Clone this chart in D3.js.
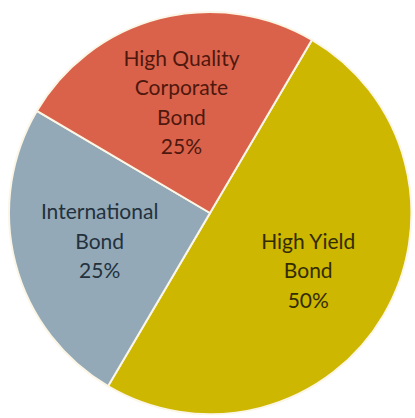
<html>
    <head>
        <script src='https://d3js.org/d3.v7.min.js'></script>
        <style> body {margin: 0; background: white} </style>
    </head>
    <body>
        <svg width=415 height=418></svg>
        <script>
            // chart data
            var categories = ['High Yield Bond', 'International Bond', 'High Quality Corporate Bond'];
            var labelLines = [['High Yield', 'Bond'], ['International', 'Bond'], ['High Quality', 'Corporate', 'Bond']];
            var values = [50, 25, 25];
            var colors = ['#CDB700', '#93A9B7', '#DB624A'];
            var textColors = ['#332c00', '#23313d', '#4e180e'];

            var cx = 210, cy = 213;
            var radius = 201;
            var labelRadius = 114;
            var lineHeight = 29.5;
            var startDeg = 30.5;

            var svg = d3.select('svg');
            var g = svg.append('g')
              .attr('transform', 'translate(' + cx + ',' + cy + ')');

            var pie = d3.pie()
              .sort(null)
              .startAngle(startDeg * Math.PI / 180)
              .endAngle(startDeg * Math.PI / 180 + 2 * Math.PI)
              .value(function (d) { return d; });

            var arcs = pie(values);
            var arc = d3.arc().innerRadius(0).outerRadius(radius);
            var labelArc = d3.arc().innerRadius(labelRadius).outerRadius(labelRadius);
            var total = d3.sum(values);

            // slices
            g.selectAll('path')
              .data(arcs)
              .enter()
              .append('path')
              .attr('d', arc)
              .style('fill', function (d, i) { return colors[i]; })
              .style('stroke', '#fbf6e6')
              .style('stroke-width', 2);

            // labels
            var labels = g.selectAll('text')
              .data(arcs)
              .enter()
              .append('text')
              .attr('transform', function (d) { return 'translate(' + labelArc.centroid(d) + ')'; })
              .attr('text-anchor', 'middle')
              .style('font-family', 'Lato')
              .style('font-size', '21px')
              .style('fill', function (d, i) { return textColors[i]; });

            labels.each(function (d, i) {
                var lines = labelLines[i].concat([Math.round(d.value / total * 100) + '%']);
                var top = -(lines.length - 1) * lineHeight / 2;
                var t = d3.select(this);
                lines.forEach(function (line, j) {
                    t.append('tspan')
                      .attr('x', 0)
                      .attr('y', top + j * lineHeight)
                      .attr('dy', '0.35em')
                      .text(line);
                });
            });
        </script>
    </body>
</html>
